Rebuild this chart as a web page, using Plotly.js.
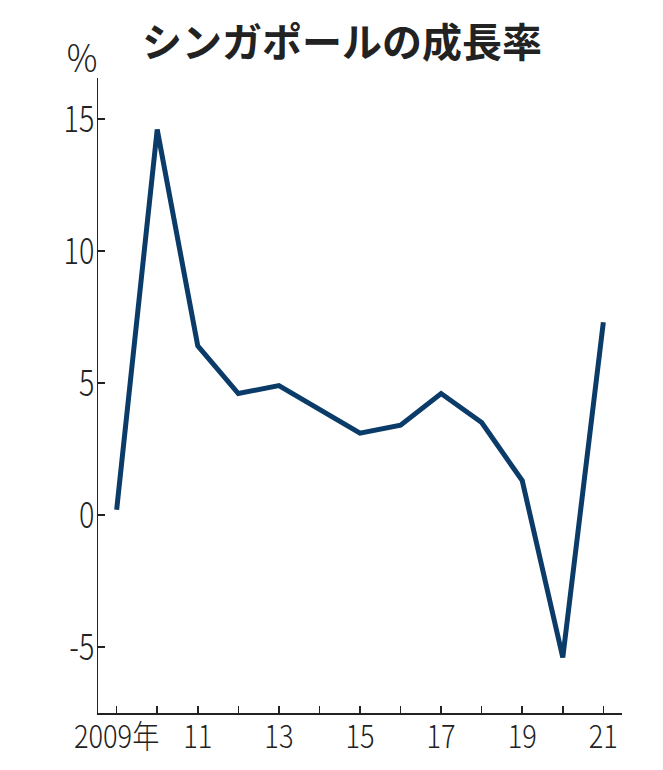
<!DOCTYPE html>
<html>
<head>
<meta charset="utf-8">
<script src="https://cdn.plot.ly/plotly-3.0.1.min.js"></script>
<style>
html,body{margin:0;padding:0;background:#fff;}
#chart{width:663px;height:770px;}
</style>
</head>
<body>
<div id="chart"></div>
<script>
const years = [2009, 2010, 2011, 2012, 2013, 2014, 2015, 2016, 2017, 2018, 2019, 2020, 2021];
const growth = [0.2, 14.6, 6.4, 4.6, 4.9, 4.0, 3.1, 3.4, 4.6, 3.5, 1.3, -5.4, 7.3];
const xTickVals = [2009, 2011, 2013, 2015, 2017, 2019, 2021];
const xTickText = ['2009年', '11', '13', '15', '17', '19', '21'];
const yTickVals = [-5, 0, 5, 10, 15];
const yTickText = ['-5', '0', '5', '10', '15'];

const fam = '"Noto Sans CJK JP", "Noto Sans", sans-serif';

const trace = {
  x: years, y: growth, type: 'scatter', mode: 'lines',
  line: {color: '#0b3b68', width: 5, shape: 'linear'},
  hoverinfo: 'skip'
};

const layout = {
  width: 663, height: 770,
  margin: {l: 98, r: 41, t: 78, b: 57},
  paper_bgcolor: '#fff', plot_bgcolor: '#fff',
  showlegend: false,
  title: {
    text: 'シンガポールの成長率',
    font: {family: fam, size: 40, weight: 700, color: '#222'},
    x: 0.516, xanchor: 'center', y: 0.944, yanchor: 'middle'
  },
  xaxis: {
    range: [2008.54, 2021.46],
    tickmode: 'array', tickvals: xTickVals, ticktext: xTickText,
    showgrid: false, zeroline: false,
    showline: true, linecolor: '#222', linewidth: 1.5,
    ticks: 'inside', ticklen: 7, tickwidth: 1.5, tickcolor: '#222',
    minor: {dtick: 1, tick0: 2009, ticks: 'inside', ticklen: 7, tickwidth: 1.5, tickcolor: '#222', showgrid: false},
    tickfont: {family: fam, size: 32, weight: 300, color: '#222'},
    ticklabelstandoff: -5
  },
  yaxis: {
    range: [-7.5, 16.55],
    tickmode: 'array', tickvals: yTickVals, ticktext: yTickText,
    showgrid: false, zeroline: false,
    showline: true, linecolor: '#222', linewidth: 1.5,
    ticks: 'inside', ticklen: 7, tickwidth: 1.5, tickcolor: '#222',
    tickfont: {family: fam, size: 36, weight: 300, color: '#222'},
    ticklabelstandoff: -5
  },
  annotations: [{
    text: '%', xref: 'paper', yref: 'paper', x: -0.0296, y: 1.0354,
    xanchor: 'center', yanchor: 'middle', showarrow: false,
    font: {family: fam, size: 38, weight: 300, color: '#222'}
  }]
};

function squeeze(sel, s, anchor) {
  document.querySelectorAll(sel).forEach(function (t) {
    const b = t.getBBox();
    const cx = anchor === 'end' ? b.x + b.width : b.x + b.width / 2;
    const old = t.getAttribute('transform') || '';
    t.setAttribute('transform', old + ' translate(' + cx + ',0) scale(' + s + ',1) translate(' + (-cx) + ',0)');
  });
}

Plotly.newPlot('chart', [trace], layout, {displayModeBar: false, staticPlot: true}).then(function () {
  squeeze('#chart .xtick text', 0.85, 'middle');
  squeeze('#chart .ytick text', 0.8, 'end');
  squeeze('#chart .annotation-text', 0.9, 'middle');
});
</script>
</body>
</html>
